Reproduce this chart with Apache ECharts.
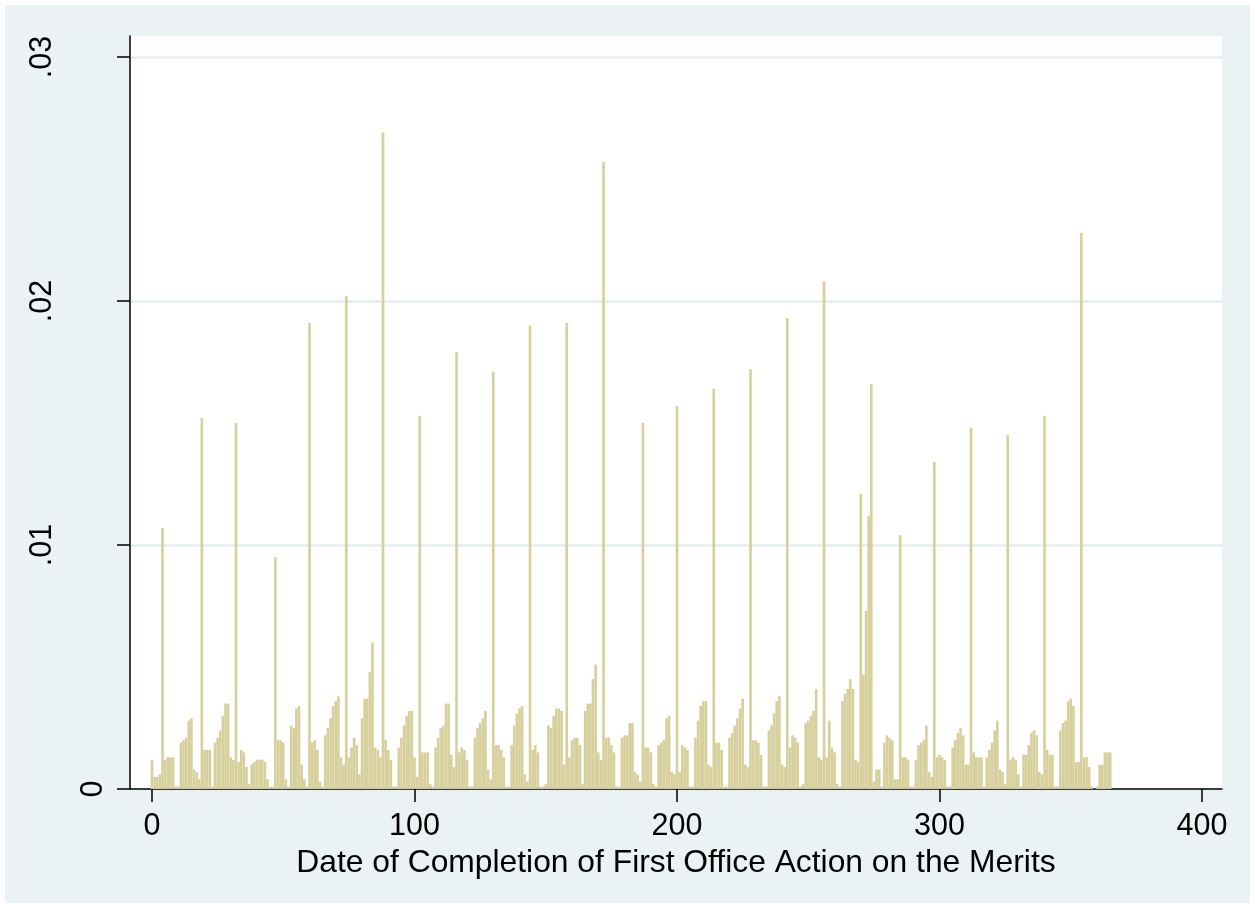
<!DOCTYPE html>
<html><head><meta charset="utf-8">
<script src="https://cdn.jsdelivr.net/npm/echarts@6/dist/echarts.min.js"></script>
<style>
html,body{margin:0;padding:0;background:#ffffff;width:1255px;height:908px;overflow:hidden}
#c{position:absolute;left:5px;top:5px;width:1245px;height:898px}
</style></head>
<body><div id="c"></div>
<script>
// ---- data ----
const xTickValues = [0, 100, 200, 300, 400];
const xTickLabels = ['0', '100', '200', '300', '400'];
const yTickValues = [0, 0.01, 0.02, 0.03];
const yTickLabels = ['0', '.01', '.02', '.03'];
const xTitle = 'Date of Completion of First Office Action on the Merits';
const firstDay = 0;
// density per day, day 0 .. 365
const density = [
  .0012, .0005, .0005, .0006, .0107, .0012, .0013, .0013, .0013, .0001, .0001, .0019, .0020, .0021, .0028, .0029, .0008, .0007, .0004, .0152,
  .0016, .0016, .0016, .0001, .0019, .0021, .0024, .0030, .0035, .0035, .0013, .0012, .0150,
  .0011, .0016, .0015, .0009, .0002, .0010, .0011, .0012, .0012, .0012, .0011, .0004, .0001, .0001, .0095,
  .0020, .0020, .0019, .0004, .0001, .0026, .0025, .0033, .0034, .0010, .0004, .0001, .0191,
  .0019, .0020, .0016, .0003, .0001, .0022, .0025, .0029, .0034, .0036, .0038, .0013, .0010, .0202,
  .0013, .0017, .0021, .0018, .0006, .0029, .0037, .0037, .0048, .0060, .0017, .0016, .0013, .0269,
  .0020, .0016, .0012, .0001, .0001, .0017, .0021, .0026, .0030, .0032, .0032, .0013, .0005, .0153,
  .0015, .0015, .0015, .0002, .0001, .0017, .0021, .0025, .0026, .0035, .0035, .0014, .0009, .0179,
  .0015, .0017, .0016, .0012, .0001, .0001, .0021, .0025, .0027, .0029, .0032, .0008, .0004, .0171,
  .0018, .0018, .0016, .0013, .0001, .0001, .0018, .0026, .0031, .0033, .0034, .0006, .0003, .0190,
  .0016, .0018, .0015, .0001, .0001, .0002, .0026, .0025, .0030, .0033, .0033, .0032, .0010, .0191,
  .0013, .0020, .0021, .0021, .0018, .0002, .0032, .0035, .0035, .0045, .0051, .0015, .0012, .0257,
  .0021, .0021, .0018, .0015, .0001, .0001, .0021, .0022, .0022, .0027, .0027, .0007, .0006, .0003, .0150,
  .0017, .0017, .0015, .0002, .0001, .0018, .0019, .0020, .0029, .0030, .0007, .0006, .0157,
  .0007, .0018, .0017, .0016, .0001, .0001, .0021, .0028, .0034, .0036, .0036, .0010, .0009, .0164,
  .0019, .0019, .0016, .0001, .0001, .0021, .0023, .0026, .0029, .0033, .0037, .0010, .0009, .0172,
  .0020, .0020, .0019, .0014, .0001, .0001, .0024, .0026, .0031, .0036, .0038, .0010, .0009, .0193,
  .0017, .0022, .0021, .0019, .0001, .0002, .0027, .0028, .0030, .0032, .0041, .0013, .0012, .0208,
  .0013, .0028, .0017, .0015, .0002, .0001, .0036, .0039, .0041, .0045, .0041, .0012, .0011, .0121,
  .0047, .0073, .0112, .0166,
  .0003, .0008, .0008, .0001, .0019, .0022, .0021, .0020, .0004, .0004, .0104,
  .0013, .0013, .0012, .0001, .0001, .0012, .0018, .0019, .0020, .0026, .0007, .0005, .0134,
  .0013, .0014, .0013, .0012, .0001, .0001, .0017, .0020, .0023, .0025, .0022, .0010, .0010, .0148,
  .0015, .0013, .0013, .0013, .0001, .0013, .0016, .0019, .0024, .0028, .0008, .0007, .0002, .0145,
  .0012, .0013, .0012, .0006, .0001, .0014, .0014, .0018, .0023, .0024, .0022, .0007, .0006, .0153,
  .0016, .0014, .0014, .0001, .0001, .0024, .0027, .0028, .0036, .0037, .0034, .0011, .0011, .0228,
  .0013, .0013, .0009, .0001, .0000, .0001, .0010, .0010, .0015, .0015, .0015
];

// ---- chart ----
const barColor = '#D7D09D';
const fontFamily = '"Liberation Sans", Arial, Helvetica, sans-serif';
const fs = 30.5;
const seriesData = density.map((v, i) => [firstDay + i, v]);

const chart = echarts.init(document.getElementById('c'), null, {renderer: 'canvas'});
chart.setOption({
  backgroundColor: '#EAF2F3',
  animation: false,
  grid: {left: 125, top: 31, right: 28, bottom: 114, show: true, backgroundColor: '#ffffff', borderWidth: 0},
  xAxis: {
    type: 'value', min: -8.38, max: 407.6,
    name: xTitle, nameLocation: 'middle', nameGap: 53,
    nameTextStyle: {fontFamily: fontFamily, fontSize: 31.8, color: '#000'},
    axisLine: {show: true, onZero: false, lineStyle: {color: '#000', width: 1.5}},
    axisTick: {show: true, length: 13, lineStyle: {color: '#000', width: 1.5}, customValues: xTickValues},
    axisLabel: {show: true, margin: 22, fontFamily: fontFamily, fontSize: fs, color: '#000', customValues: xTickValues,
      formatter: v => xTickLabels[xTickValues.indexOf(v)] ?? ''},
    splitLine: {show: false}
  },
  yAxis: {
    type: 'value', min: 0, max: 0.03086, interval: 0.01,
    axisLine: {show: true, onZero: false, lineStyle: {color: '#000', width: 1.5}},
    axisTick: {show: true, length: 13, lineStyle: {color: '#000', width: 1.5}, customValues: yTickValues},
    axisLabel: {show: true, rotate: 90, margin: 21, color: '#000', customValues: yTickValues,
      formatter: v => {
        let i = yTickValues.findIndex(t => Math.abs(t - v) < 1e-9);
        if (i < 0) return '';
        return (i === 0 ? '{z|' : '{a|') + yTickLabels[i] + '}';
      },
      rich: {
        z: {fontFamily: fontFamily, fontSize: fs, color: '#000'},
        a: {fontFamily: fontFamily, fontSize: fs, color: '#000', padding: [0, 0, 51, 0]}
      }
    },
    splitLine: {show: true, lineStyle: {color: '#E4EEF0', width: 2.5}}
  },
  series: [{
    type: 'custom',
    encode: {x: 0, y: 1},
    data: seriesData,
    renderItem: function (params, api) {
      const d = api.value(0), v = api.value(1);
      const p0 = api.coord([d - 0.5, v]);
      const p1 = api.coord([d + 0.5, 0]);
      return {type: 'rect', shape: {x: p0[0], y: p0[1], width: p1[0] - p0[0], height: p1[1] - p0[1]},
        style: {fill: barColor}};
    }
  }]
});
</script></body></html>
